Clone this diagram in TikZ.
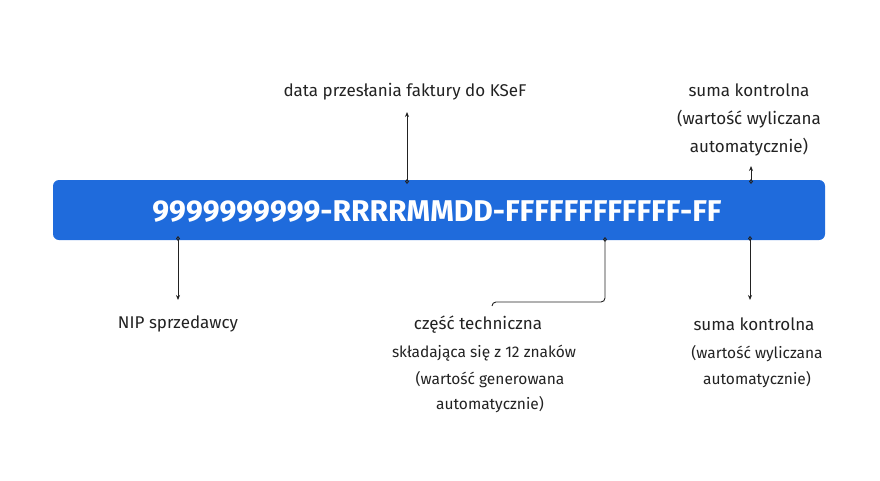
\documentclass[tikz,border=0pt]{standalone}
\usepackage{fontspec}
\setmainfont{Fira Sans}
\usetikzlibrary{arrows.meta}
\definecolor{bar}{HTML}{1F6BDC}
\definecolor{ink}{HTML}{222222}
\begin{document}
\begin{tikzpicture}[x=1pt,y=-1pt,
  lbl/.style={text=ink,font=\fontsize{17}{20}\selectfont,inner sep=0pt,anchor=base},
  con/.style={draw=ink,line width=0.9pt,{Diamond[open,length=5pt,width=4pt]}-{Stealth[length=5pt,width=4pt]}}]
\useasboundingbox (0,0) rectangle (880,480);
\node[fill=bar,rounded corners=6pt,minimum width=772pt,minimum height=60pt,inner sep=0pt] (bar) at (439,210) {};
\node[text=white,font=\fontsize{30}{34}\selectfont\bfseries,inner sep=0pt] (code) at (437,212) {9999999999-RRRRMMDD-FFFFFFFFFFFF-FF};
\node[lbl] (data) at (405,96) {data przesłania faktury do KSeF};
\node[lbl] (sk1) at (749,96) {suma kontrolna};
\node[lbl] (sk1b) at (749,124) {(wartość wyliczana};
\node[lbl] (sk1c) at (749,152) {automatycznie)};
\node[lbl] (nip) at (178,328) {NIP sprzedawcy};
\node[lbl] (cz) at (478,329) {część techniczna};
\node[lbl,font=\fontsize{15.5}{18}\selectfont] (cz2) at (484,357) {składająca się z 12 znaków};
\node[lbl,font=\fontsize{15.5}{18}\selectfont] (cz3) at (490,384) {(wartość generowana};
\node[lbl,font=\fontsize{15.5}{18}\selectfont] (cz4) at (490,409) {automatycznie)};
\node[lbl] (sk2) at (754,330) {suma kontrolna};
\node[lbl,font=\fontsize{15.5}{18}\selectfont] (sk2b) at (757,358) {(wartość wyliczana};
\node[lbl,font=\fontsize{15.5}{18}\selectfont] (sk2c) at (757,384) {automatycznie)};
\coordinate (a1) at (407,184); \coordinate (a1e) at (407,112);
\coordinate (a2) at (751,184); \coordinate (a2e) at (751,166);
\coordinate (a3) at (178,236); \coordinate (a3e) at (178,300);
\coordinate (a4) at (750,236); \coordinate (a4e) at (750,300);
\coordinate (a5) at (605,237); \coordinate (a5e) at (492,306);
\draw[con] (a1) -- (a1e);
\draw[con] (a2) -- (a2e);
\draw[con] (a3) -- (a3e);
\draw[con] (a4) -- (a4e);
\draw[draw=ink,line width=0.9pt,{Diamond[open,length=5pt,width=4pt]}-,rounded corners=4pt] (a5) -- (605,302) -- (492,302) -- (a5e);
\end{tikzpicture}
\end{document}
